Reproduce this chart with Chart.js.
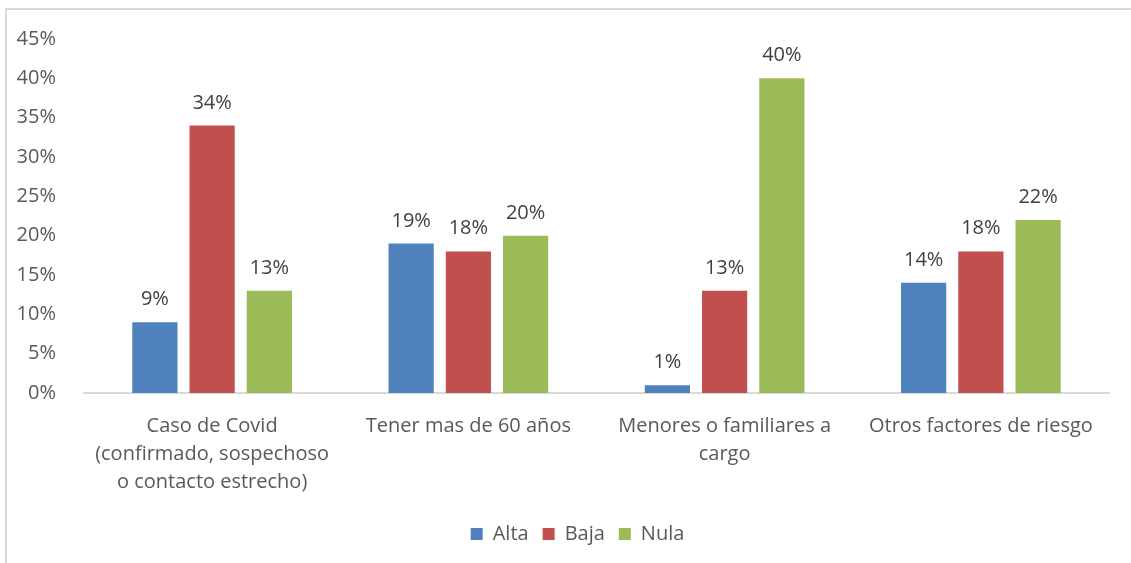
<!DOCTYPE html>
<html>
<head>
<meta charset="utf-8">
<script src="https://cdn.jsdelivr.net/npm/chart.js@4/dist/chart.umd.min.js"></script>
<style>
  html, body { margin: 0; padding: 0; background: #fff; }
  #wrap { position: absolute; left: 0; top: 0; width: 1131px; height: 563px; }
  #frame { position: absolute; left: 5px; top: 8px; width: 1140px; height: 600px; border: 2px solid #d9d9d9; box-sizing: border-box; }
</style>
</head>
<body>
<div id="frame"></div>
<div id="wrap"><canvas id="chart"></canvas></div>
<script>
  const categories = [
    ['Caso de Covid', '(confirmado, sospechoso', 'o contacto estrecho)'],
    'Tener mas de 60 años',
    ['Menores o familiares a', 'cargo'],
    'Otros factores de riesgo'
  ];
  const seriesNames = ['Alta', 'Baja', 'Nula'];
  const alta = [9, 19, 1, 14];
  const baja = [34, 18, 13, 18];
  const nula = [13, 20, 40, 22];
  const colors = ['#4F81BD', '#C0504D', '#9BBB59'];

  const fontFamily = "'Open Sans', 'Noto Sans', sans-serif";

  // draws the % value above every bar
  const valueLabels = {
    id: 'valueLabels',
    afterDatasetsDraw(chart) {
      const ctx = chart.ctx;
      ctx.save();
      ctx.font = '20px ' + fontFamily;
      ctx.fillStyle = '#404040';
      ctx.textAlign = 'center';
      ctx.textBaseline = 'alphabetic';
      chart.data.datasets.forEach((ds, i) => {
        chart.getDatasetMeta(i).data.forEach((bar, j) => {
          ctx.fillText(ds.data[j] + '%', bar.x, bar.y - 17);
        });
      });
      ctx.restore();
    }
  };

  // legend sits a bit right of the canvas centre in the original
  const legendShift = {
    id: 'legendShift',
    afterLayout(chart) {
      chart.legend.left += 23;
      chart.legend.right += 23;
    }
  };

  new Chart(document.getElementById('chart'), {
    type: 'bar',
    data: {
      labels: categories,
      datasets: [alta, baja, nula].map((d, i) => ({
        label: seriesNames[i],
        data: d,
        backgroundColor: colors[i],
        categoryPercentage: 0.67,
        barPercentage: 0.79
      }))
    },
    options: {
      responsive: true,
      maintainAspectRatio: false,
      animation: false,
      layout: { padding: { top: 39, right: 22, bottom: 9, left: 0 } },
      plugins: {
        tooltip: { enabled: false },
        legend: {
          position: 'bottom',
          labels: {
            boxWidth: 12,
            boxHeight: 12,
            padding: 14,
            color: '#595959',
            font: { family: fontFamily, size: 20 }
          }
        }
      },
      scales: {
        x: {
          grid: { display: false },
          border: { display: true, color: '#d9d9d9', width: 2 },
          ticks: {
            color: '#595959',
            padding: 11,
            maxRotation: 0,
            autoSkip: false,
            font: { family: fontFamily, size: 20, lineHeight: 1.4 }
          },
          afterFit(scale) { scale.height = 117; }
        },
        y: {
          min: 0,
          max: 45,
          grid: { display: false },
          border: { display: false },
          ticks: {
            stepSize: 5,
            padding: 20,
            color: '#595959',
            font: { family: fontFamily, size: 20 },
            callback: v => v + '%'
          },
          afterFit(scale) { scale.width = 84; }
        }
      }
    },
    plugins: [valueLabels, legendShift]
  });
</script>
</body>
</html>
